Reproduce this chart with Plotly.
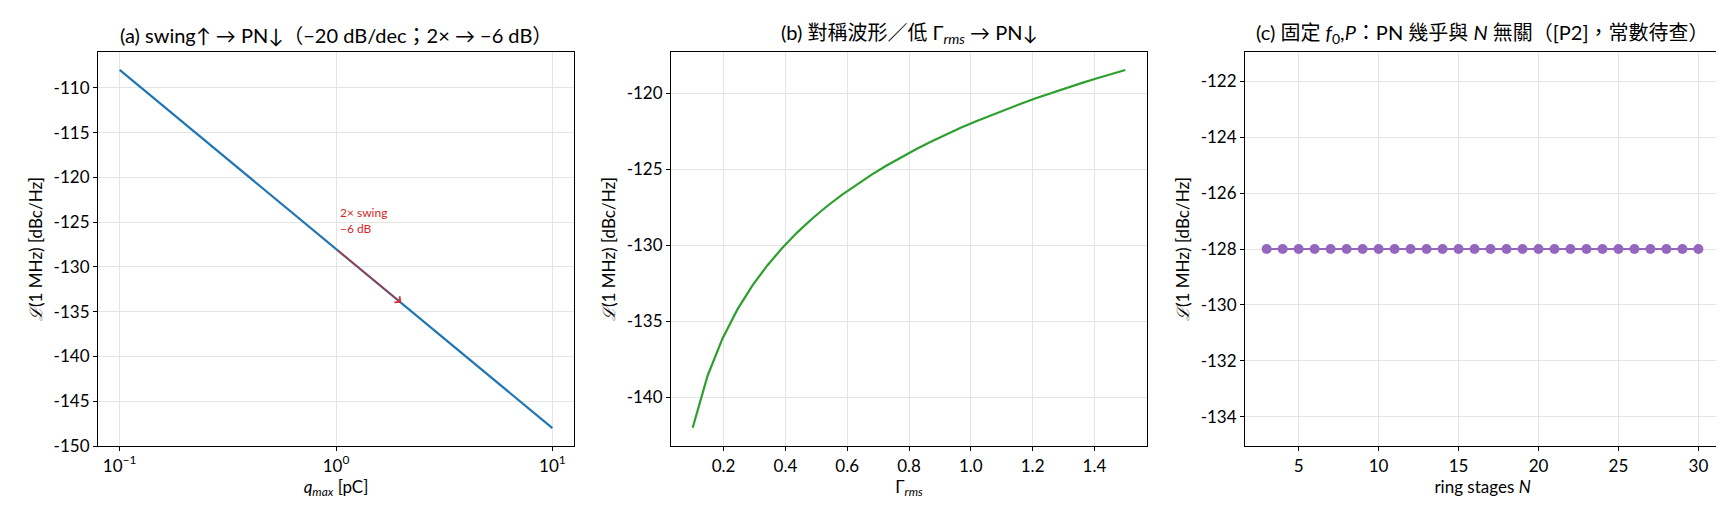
import math

import plotly.graph_objects as go
from plotly.subplots import make_subplots

# (a) phase noise vs charge swing
q_max = [0.1, 1.0, 10.0]
pn_q = [-108.0, -128.0, -148.0]
arrow_q = [1.0, 2.0]
arrow_pn = [-128.0, -134.0]

# (b) phase noise vs Gamma_rms
gamma_rms = [0.1, 0.1483, 0.1966, 0.2448, 0.2931, 0.3414, 0.3897, 0.4379, 0.4862, 0.5345,
             0.5828, 0.631, 0.6793, 0.7276, 0.7759, 0.8241, 0.8724, 0.9207, 0.969, 1.0172,
             1.0655, 1.1138, 1.1621, 1.2103, 1.2586, 1.3069, 1.3552, 1.4034, 1.4517, 1.5]
pn_gamma = [-142.00, -138.58, -136.13, -134.22, -132.66, -131.33, -130.19, -129.17, -128.26, -127.44,
            -126.69, -126.00, -125.36, -124.76, -124.20, -123.68, -123.19, -122.72, -122.27, -121.85,
            -121.45, -121.06, -120.70, -120.34, -120.00, -119.68, -119.36, -119.06, -118.76, -118.48]

# (c) phase noise vs ring stages
stages = list(range(3, 31))
pn_stages = [-128.0] * len(stages)

yticks_a = [-110, -115, -120, -125, -130, -135, -140, -145, -150]
yticks_b = [-120, -125, -130, -135, -140]
yticks_c = [-122, -124, -126, -128, -130, -132, -134]
xticks_a = [0.1, 1, 10]
xticks_a_text = ["10<sup>−1</sup>", "10<sup>0</sup>", "10<sup>1</sup>"]

FONT = "Lato, 'Noto Sans CJK TC', sans-serif"
BLUE, GREEN, PURPLE, RED = "#1f77b4", "#2ca02c", "#9467bd", "#d62728"

fig = make_subplots(rows=1, cols=3)

fig.add_trace(go.Scatter(x=q_max, y=pn_q, mode="lines",
                         line=dict(color=BLUE, width=2.2)), row=1, col=1)
fig.add_trace(go.Scatter(x=gamma_rms, y=pn_gamma, mode="lines",
                         line=dict(color=GREEN, width=2.2)), row=1, col=2)
fig.add_trace(go.Scatter(x=stages, y=pn_stages, mode="lines+markers",
                         line=dict(color=PURPLE, width=2.2),
                         marker=dict(color=PURPLE, size=10)), row=1, col=3)

axis_common = dict(
    showline=True, linecolor="black", linewidth=1.2, mirror=True,
    ticks="outside", ticklen=4, tickcolor="black",
    showgrid=True, gridcolor="#e5e5e5", gridwidth=1, zeroline=False,
    tickfont=dict(size=17, color="black"), title_font=dict(size=17, color="black"),
    title_standoff=6,
)
for i in range(1, 4):
    fig.update_xaxes(row=1, col=i, **axis_common)
    fig.update_yaxes(row=1, col=i, **axis_common)

fig.update_xaxes(row=1, col=1, type="log", range=[-1.1, 1.1],
                 tickvals=xticks_a, ticktext=xticks_a_text,
                 title_text="<i>q</i><sub><i>max</i></sub> [pC]")
fig.update_yaxes(row=1, col=1, range=[-150, -106],
                 tickvals=yticks_a, ticktext=[str(v) for v in yticks_a],
                 title_text="<i>ℒ</i>(1 MHz) [dBc/Hz]")

fig.update_xaxes(row=1, col=2, range=[0.03, 1.57], dtick=0.2, tickformat=".1f",
                 title_text="Γ<sub><i>rms</i></sub>")
fig.update_yaxes(row=1, col=2, range=[-143.2, -117.3],
                 tickvals=yticks_b, ticktext=[str(v) for v in yticks_b],
                 title_text="<i>ℒ</i>(1 MHz) [dBc/Hz]")

fig.update_xaxes(row=1, col=3, range=[1.65, 31.35], dtick=5,
                 title_text="ring stages <i>N</i>")
fig.update_yaxes(row=1, col=3, range=[-135.04, -120.96],
                 tickvals=yticks_c, ticktext=[str(v) for v in yticks_c],
                 title_text="<i>ℒ</i>(1 MHz) [dBc/Hz]")

fig.update_layout(
    xaxis=dict(domain=[0.0, 0.2935]),
    xaxis2=dict(domain=[0.3533, 0.6467]),
    xaxis3=dict(domain=[0.7072, 1.0]),
)

titles = [
    ("(a) swing↑ → PN↓（−20 dB/dec；2× → −6 dB）", "x domain"),
    ("(b) 對稱波形／低 Γ<sub><i>rms</i></sub> → PN↓", "x2 domain"),
    ("(c) 固定 <i>f</i><sub>0</sub>,<i>P</i>：PN 幾乎與 <i>N</i> 無關（[P2]，常數待查）", "x3 domain"),
]
for text, xref in titles:
    fig.add_annotation(text=text, xref=xref, yref="paper", x=0.5, y=1.0,
                       yanchor="bottom", xanchor="center", showarrow=False,
                       yshift=3, font=dict(size=20, color="black"))

# arrow on panel (a): log axis annotations use log10 coordinates
fig.add_annotation(xref="x", yref="y", axref="x", ayref="y",
                   x=math.log10(arrow_q[1]), y=arrow_pn[1],
                   ax=math.log10(arrow_q[0]), ay=arrow_pn[0],
                   showarrow=True, arrowhead=4, arrowsize=1.3, arrowwidth=1.2,
                   arrowcolor=RED, text="")
fig.add_annotation(xref="x", yref="y", x=math.log10(arrow_q[0]), y=arrow_pn[0] + 1.2,
                   text="2× swing<br>−6 dB", showarrow=False, align="left",
                   xanchor="left", yanchor="bottom", xshift=2,
                   font=dict(size=12, color=RED))

fig.update_layout(
    width=1724, height=512,
    margin=dict(l=90, r=12, t=44, b=74),
    paper_bgcolor="white", plot_bgcolor="white",
    showlegend=False,
    font=dict(family=FONT, color="black"),
)

fig.write_html("out.html")
